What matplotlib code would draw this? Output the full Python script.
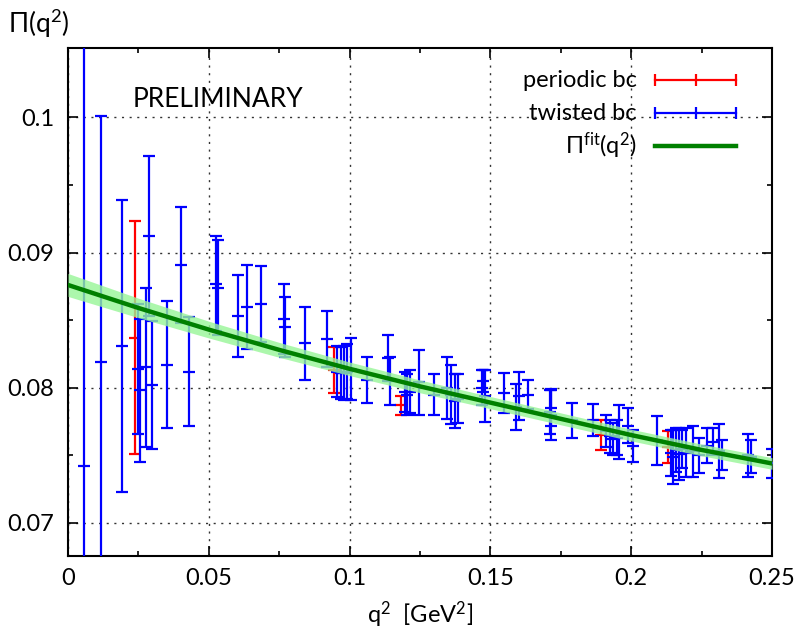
import matplotlib
matplotlib.use("Agg")
import matplotlib.pyplot as plt
import numpy as np

# ==========================================================
# DATA
# ==========================================================

# periodic boundary conditions
per_x = [0.0238, 0.0945, 0.1183, 0.1893, 0.2130]
per_y = [0.0837, 0.0813, 0.0787, 0.0765, 0.0756]
per_err = [0.0086, 0.0017, 0.0007, 0.0011, 0.0012]

# twisted boundary conditions
tw_x = [0.0058, 0.0116, 0.0191, 0.0247, 0.0256, 0.0276, 0.0287, 0.0297,
        0.0353, 0.0401, 0.0430, 0.0524, 0.0534, 0.0603, 0.0637, 0.0684,
        0.0768, 0.0770, 0.0843, 0.0919, 0.0956, 0.0968, 0.0980, 0.0990,
        0.1004, 0.1063, 0.1138, 0.1144, 0.1195, 0.1205, 0.1215, 0.1245,
        0.1300, 0.1345, 0.1360, 0.1375, 0.1385, 0.1470, 0.1475, 0.1480,
        0.1550, 0.1590, 0.1600, 0.1632, 0.1710, 0.1714, 0.1716, 0.1789,
        0.1865, 0.1912, 0.1925, 0.1935, 0.1948, 0.1958, 0.1990, 0.2007,
        0.2090, 0.2140, 0.2150, 0.2160, 0.2170, 0.2180, 0.2195, 0.2221,
        0.2242, 0.2268, 0.2289, 0.2313, 0.2321, 0.2416, 0.2424, 0.2499]
tw_y = [0.0742, 0.0819, 0.0831, 0.0814, 0.0798, 0.0815, 0.0912, 0.0802,
        0.0817, 0.0891, 0.0812, 0.0877, 0.0874, 0.0853, 0.0860, 0.0862,
        0.0851, 0.0845, 0.0833, 0.0836, 0.0812, 0.0811, 0.0811, 0.0812,
        0.0814, 0.0806, 0.0822, 0.0805, 0.0797, 0.0795, 0.0797, 0.0804,
        0.0795, 0.0800, 0.0795, 0.0790, 0.0792, 0.0800, 0.0805, 0.0794,
        0.0796, 0.0786, 0.0794, 0.0795, 0.0782, 0.0780, 0.0785, 0.0776,
        0.0776, 0.0768, 0.0764, 0.0762, 0.0763, 0.0767, 0.0772, 0.0757,
        0.0761, 0.0752, 0.0749, 0.0754, 0.0751, 0.0755, 0.0752, 0.0753,
        0.0750, 0.0757, 0.0760, 0.0753, 0.0750, 0.0750, 0.0749, 0.0744]
tw_err = [0.0350, 0.0182, 0.0108, 0.0048, 0.0053, 0.0059, 0.0059, 0.0047,
          0.0047, 0.0043, 0.0040, 0.0035, 0.0035, 0.0030, 0.0031, 0.0028,
          0.0026, 0.0022, 0.0027, 0.0021, 0.0019, 0.0019, 0.0020, 0.0020,
          0.0023, 0.0017, 0.0017, 0.0018, 0.0015, 0.0015, 0.0016, 0.0024,
          0.0015, 0.0023, 0.0022, 0.0020, 0.0018, 0.0013, 0.0008, 0.0019,
          0.0015, 0.0017, 0.0018, 0.0011, 0.0016, 0.0019, 0.0013, 0.0013,
          0.0012, 0.0012, 0.0012, 0.0012, 0.0013, 0.0020, 0.0013, 0.0012,
          0.0018, 0.0017, 0.0020, 0.0016, 0.0019, 0.0014, 0.0018, 0.0019,
          0.0013, 0.0013, 0.0010, 0.0020, 0.0011, 0.0016, 0.0012, 0.0011]

# fit curve and its error band
fit_x = [0.0, 0.025, 0.05, 0.075, 0.1, 0.125, 0.15, 0.175, 0.2, 0.225, 0.25]
fit_y = [0.0876, 0.0859, 0.0843, 0.0828, 0.0814, 0.0801, 0.0789, 0.0777,
         0.0765, 0.0754, 0.0744]
fit_err = [0.00085, 0.00072, 0.00062, 0.00055, 0.0005, 0.00047, 0.00045,
           0.00044, 0.00043, 0.00043, 0.00043]

x_ticks = [0, 0.05, 0.1, 0.15, 0.2, 0.25]
x_ticklabels = ["0", "0.05", "0.1", "0.15", "0.2", "0.25"]
y_ticks = [0.07, 0.08, 0.09, 0.1]
y_ticklabels = ["0.07", "0.08", "0.09", "0.1"]

legend_labels = ["periodic bc", "twisted bc", "Π$^{fit}$(q$^2$)"]
legend_colors = ["#ff0000", "#0000ff", "#008000"]

# ==========================================================
# STYLE
# ==========================================================

plt.rcParams["font.family"] = ["Lato", "DejaVu Sans"]
plt.rcParams["mathtext.fontset"] = "custom"
plt.rcParams["mathtext.rm"] = "Lato"
plt.rcParams["mathtext.default"] = "regular"

FS = 17

fig = plt.figure(figsize=(8, 6.37), dpi=100)
ax = fig.add_axes([0.085, 0.1272, 0.88, 0.7974])

# ==========================================================
# ERROR BARS
# ==========================================================

ax.errorbar(per_x, per_y, yerr=per_err, fmt="_", color="#ff0000",
            ecolor="#ff0000", elinewidth=1.6, capsize=4, capthick=1.6,
            markersize=8, mew=1.6, zorder=2)

ax.errorbar(tw_x, tw_y, yerr=tw_err, fmt="_", color="#0000ff",
            ecolor="#0000ff", elinewidth=1.6, capsize=4, capthick=1.6,
            markersize=8, mew=1.6, zorder=3)

# ==========================================================
# FIT BAND + LINE
# ==========================================================

fy = np.array(fit_y)
fe = np.array(fit_err)
ax.fill_between(fit_x, fy - fe, fy + fe, color="#98f598", alpha=0.8,
                lw=0, zorder=4)
ax.plot(fit_x, fit_y, color="#008000", lw=3.2, zorder=5)

# ==========================================================
# AXES
# ==========================================================

ax.set_xlim(0, 0.25)
ax.set_ylim(0.06756, 0.10512)

ax.set_xticks(x_ticks)
ax.set_xticklabels(x_ticklabels)
ax.set_yticks(y_ticks)
ax.set_yticklabels(y_ticklabels)
ax.set_xticks(np.arange(0.025, 0.25, 0.05), minor=True)
ax.set_yticks([0.075, 0.085, 0.095], minor=True)

ax.tick_params(which="both", direction="in", top=True, right=True,
               width=1.2, labelsize=FS, color="black")
ax.tick_params(which="major", length=7)
ax.tick_params(which="minor", length=3.5)
ax.tick_params(axis="x", pad=9)
ax.tick_params(axis="y", pad=10)

for s in ax.spines.values():
    s.set_linewidth(1.5)

ax.grid(True, which="major", color="black", linestyle=(0, (1.5, 4)),
        linewidth=1.0, alpha=0.8)
ax.set_axisbelow(True)

ax.set_xlabel("q$^2$  [GeV$^2$]", fontsize=FS, labelpad=7)
fig.text(0.01, 0.963, "Π(q$^2$)", fontsize=19, ha="left", va="center")

ax.text(0.0231, 0.10134, "PRELIMINARY", fontsize=19, ha="left",
        va="center")

# ==========================================================
# LEGEND (gnuplot style: right-aligned text, sample on the right)
# ==========================================================

row_y = [0.937, 0.872, 0.807]
x_text = 0.808
x0, x1 = 0.834, 0.949
for lab, col, yy in zip(legend_labels, legend_colors, row_y):
    ax.text(x_text, yy, lab, transform=ax.transAxes, fontsize=FS,
            ha="right", va="center")
    if col == "#008000":
        ax.plot([x0, x1], [yy, yy], color=col, lw=3.2,
                transform=ax.transAxes, clip_on=False, zorder=6)
    else:
        ax.plot([x0, x1], [yy, yy], color=col, lw=1.6,
                transform=ax.transAxes, clip_on=False, zorder=6)
        ax.plot([x0, (x0 + x1) / 2, x1], [yy, yy, yy], ls="none",
                marker="|", markersize=9, mew=1.6, color=col,
                transform=ax.transAxes, clip_on=False, zorder=6)

fig.savefig("out.png", dpi=100)
